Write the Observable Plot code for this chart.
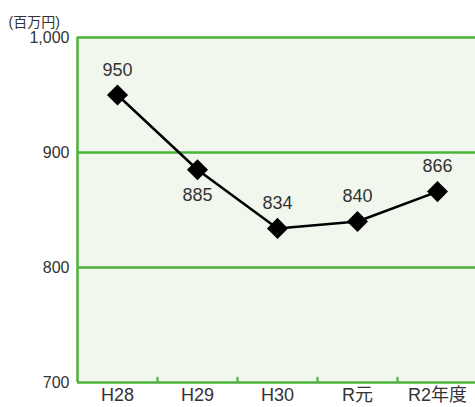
<!DOCTYPE html>
<html>
<head>
<meta charset="utf-8">
<script src="https://cdn.jsdelivr.net/npm/d3@7"></script>
<script src="https://cdn.jsdelivr.net/npm/@observablehq/plot@0.6"></script>
<style>
  html, body { margin: 0; padding: 0; background: #fff; }
</style>
</head>
<body>
<div id="chart"></div>
<script>
const categories = ["H28", "H29", "H30", "R元", "R2年度"];
const values = [950, 885, 834, 840, 866];
const yTicks = [700, 800, 900, 1000];
const unitLabel = "(百万円)";

const data = categories.map((c, i) => ({year: c, value: values[i]}));
const idx = c => categories.indexOf(c);

const green = "#4cb23b";
const bg = "#f1f7ed";
const textColor = "#333";
const font = "'Liberation Sans', 'Noto Sans CJK JP', sans-serif";

const chart = Plot.plot({
  width: 475,
  height: 407,
  marginLeft: 77,
  marginRight: 0,
  marginTop: 37,
  marginBottom: 25,
  style: {fontFamily: font, color: textColor, background: "#fff", overflow: "visible"},
  x: {type: "linear", domain: [-0.5, categories.length - 0.5], range: [77, 477]},
  y: {domain: [700, 1000]},
  marks: [
    Plot.rect([0], {x1: -0.5, x2: categories.length - 0.5, y1: 700, y2: 1000, fill: bg}),
    Plot.ruleY(yTicks, {stroke: green, strokeWidth: 2.5}),
    Plot.ruleX([-0.5], {y1: 700, y2: 1000, stroke: green, strokeWidth: 2.5}),
    Plot.ruleX(d3.range(categories.length - 1).map(i => i + 0.5), {y1: 700, y2: 704.5, stroke: green, strokeWidth: 2}),
    Plot.axisY({ticks: yTicks, tickSize: 0, tickPadding: 8, tickFormat: d3.format(","), fontSize: 16, stroke: null, label: null}),
    Plot.axisX({ticks: d3.range(categories.length), tickSize: 0, tickPadding: 6, tickFormat: i => categories[i], fontSize: 18, stroke: null, label: null}),
    Plot.line(data, {x: d => idx(d.year), y: "value", stroke: "#000", strokeWidth: 2.5}),
    Plot.dot(data, {x: d => idx(d.year), y: "value", symbol: "diamond2", r: 9.5, fill: "#000", stroke: "none"}),
    Plot.text(data, {filter: d => d.year !== "H29", x: d => idx(d.year), y: "value", text: d => String(d.value), dy: -25, fontSize: 18, fill: textColor}),
    Plot.text(data, {filter: d => d.year === "H29", x: d => idx(d.year), y: "value", text: d => String(d.value), dy: 25, fontSize: 18, fill: textColor}),
    Plot.text([unitLabel], {frameAnchor: "top-left", text: d => d, dx: -69, dy: -20, textAnchor: "start", fontSize: 14, fill: textColor})
  ]
});
document.getElementById("chart").appendChild(chart);
</script>
</body>
</html>
